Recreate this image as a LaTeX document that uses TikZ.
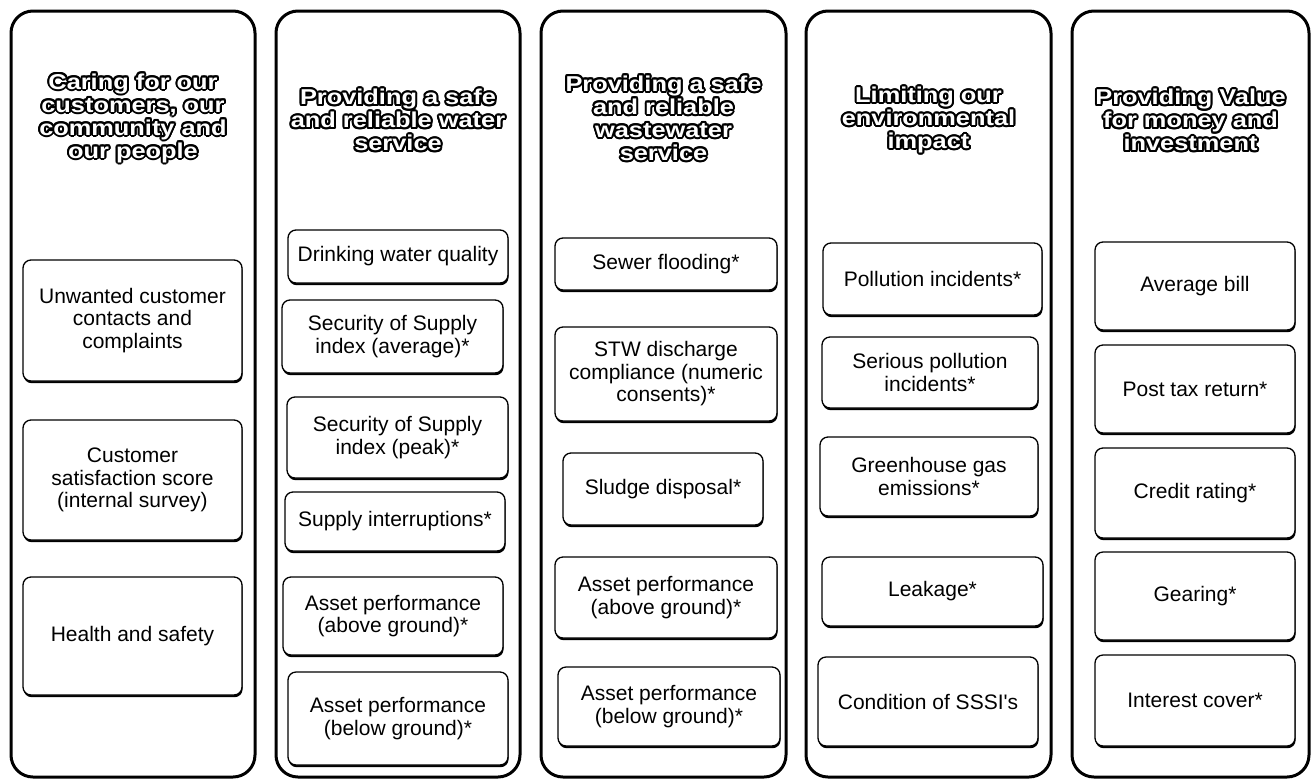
\documentclass[tikz,border=0pt]{standalone}
\usepackage{fontspec}
\setmainfont{Liberation Sans}
\newfontfamily\hdrfont{Liberation Sans Bold}[FakeStretch=1.18]
\usepackage{contour}
\contourlength{2pt}
\usetikzlibrary{shadows}
\newcommand\hl[1]{\contour{black}{\textcolor{white}{#1}}}
\tikzset{
  colbox/.style={draw=black, line width=3pt, rounded corners=22pt, inner sep=0pt},
  hdr/.style={align=center, font=\hdrfont\fontsize{21.5}{23}\selectfont, inner sep=0pt},
  kpi/.style={draw=black, line width=1.3pt, fill=white, rounded corners=8pt, inner sep=0pt,
    align=center, font=\fontsize{21}{22.5}\selectfont,
    drop shadow={shadow xshift=0.6pt, shadow yshift=-2.2pt, opacity=1, fill=black}}
}
\begin{document}
\begin{tikzpicture}[x=1pt,y=-1pt]
\useasboundingbox (0,0) rectangle (1315,780);
% columns
\node[colbox, minimum width=244, minimum height=766] (c1) at (133,394) {};
\node[colbox, minimum width=244, minimum height=766] (c2) at (398,394) {};
\node[colbox, minimum width=245, minimum height=766] (c3) at (663.5,394) {};
\node[colbox, minimum width=245, minimum height=766] (c4) at (928.5,394) {};
\node[colbox, minimum width=237, minimum height=766] (c5) at (1190.5,394) {};
% headers
\node[hdr] (h1) at (133,119) {\hl{Caring for our}\\\hl{customers, our}\\\hl{community and}\\\hl{our people}};
\node[hdr] (h2) at (398,121) {\hl{Providing a safe}\\\hl{and reliable water}\\\hl{service}};
\node[hdr] (h3) at (663.5,119) {\hl{Providing a safe}\\\hl{and reliable}\\\hl{wastewater}\\\hl{service}};
\node[hdr] (h4) at (928.5,121) {\hl{Limiting our}\\\hl{environmental}\\\hl{impact}};
\node[hdr] (h5) at (1190.5,121) {\hl{Providing Value}\\\hl{for money and}\\\hl{investment}};
% column 1
\node[kpi, minimum width=219, minimum height=121] (k1a) at (132.5,320.5) {Unwanted customer\\contacts and\\complaints};
\node[kpi, minimum width=219, minimum height=120] (k1b) at (132.5,480) {Customer\\satisfaction score\\(internal survey)};
\node[kpi, minimum width=219, minimum height=118] (k1c) at (132.5,636) {Health and safety};
% column 2
\node[kpi, minimum width=220, minimum height=53] (k2a) at (398,256.5) {Drinking water quality};
\node[kpi, minimum width=221, minimum height=73] (k2b) at (392.5,336.5) {Security of Supply\\index (average)*};
\node[kpi, minimum width=221, minimum height=81] (k2c) at (397.5,437.5) {Security of Supply\\index (peak)*};
\node[kpi, minimum width=220, minimum height=59] (k2d) at (395,521.5) {Supply interruptions*};
\node[kpi, minimum width=220, minimum height=78] (k2e) at (393,616) {Asset performance\\(above ground)*};
\node[kpi, minimum width=220, minimum height=93] (k2f) at (398,718.5) {Asset performance\\(below ground)*};
% column 3
\node[kpi, minimum width=222, minimum height=52] (k3a) at (666,264) {Sewer flooding*};
\node[kpi, minimum width=222, minimum height=94] (k3b) at (666,374) {STW discharge\\compliance (numeric\\consents)*};
\node[kpi, minimum width=200, minimum height=72] (k3c) at (663,489) {Sludge disposal*};
\node[kpi, minimum width=222, minimum height=81] (k3d) at (666,597.5) {Asset performance\\(above ground)*};
\node[kpi, minimum width=222, minimum height=79] (k3e) at (669,706.5) {Asset performance\\(below ground)*};
% column 4
\node[kpi, minimum width=219, minimum height=72] (k4a) at (932.5,279) {Pollution incidents*};
\node[kpi, minimum width=216, minimum height=71] (k4b) at (930,372.5) {Serious pollution\\incidents*};
\node[kpi, minimum width=218, minimum height=79] (k4c) at (929,476.5) {Greenhouse gas\\emissions*};
\node[kpi, minimum width=221, minimum height=69] (k4d) at (932.5,591.5) {Leakage*};
\node[kpi, minimum width=220, minimum height=89] (k4e) at (928,701.5) {Condition of SSSI\textquotesingle s};
% column 5
\node[kpi, minimum width=200, minimum height=88] (k5a) at (1195,286) {Average bill};
\node[kpi, minimum width=200, minimum height=88] (k5b) at (1195,389) {Post tax return*};
\node[kpi, minimum width=200, minimum height=90] (k5c) at (1195,493) {Credit rating*};
\node[kpi, minimum width=200, minimum height=88] (k5d) at (1195,596) {Gearing*};
\node[kpi, minimum width=200, minimum height=91] (k5e) at (1195,700.5) {Interest cover*};
\end{tikzpicture}
\end{document}
